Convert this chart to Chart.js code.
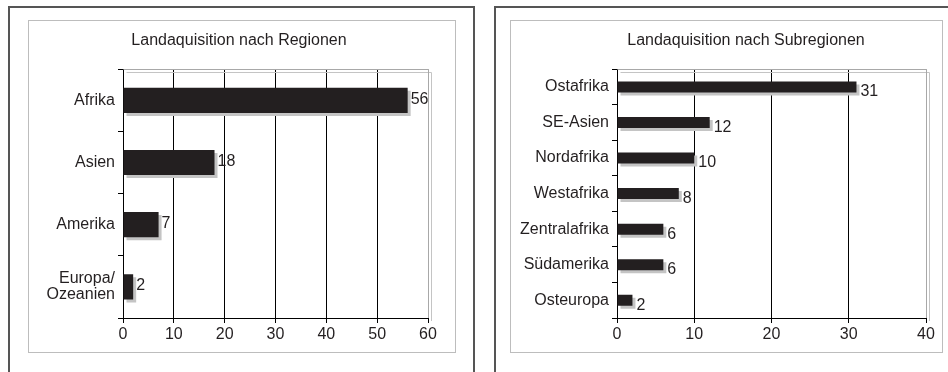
<!DOCTYPE html>
<html>
<head>
<meta charset="utf-8">
<script src="https://cdn.jsdelivr.net/npm/chart.js@4.4.1/dist/chart.umd.min.js"></script>
<style>
  html, body { margin: 0; padding: 0; background: #fff; width: 948px; height: 372px; overflow: hidden; }
  .frame { position: absolute; border: 2px solid #555; border-bottom: none; box-sizing: border-box; }
  .box { position: absolute; border: 1px solid #bdbdbd; box-sizing: border-box; background: #fff; }
  .holder { position: absolute; overflow: hidden; }
  canvas { position: absolute; left: 0; top: 0; }
</style>
</head>
<body>
<div class="frame" style="left:8px; top:6px; width:467px; height:380px;"></div>
<div class="frame" style="left:494px; top:6px; width:470px; height:380px;"></div>
<div class="box" style="left:28px; top:20px; width:428px; height:333px;"></div>
<div class="box" style="left:510px; top:20px; width:433px; height:333px;"></div>
<div class="holder" style="left:29px; top:21px; width:426px; height:331px;">
  <div style="position:absolute; left:0; top:0; width:420px; height:331px;"><canvas id="c1"></canvas></div>
</div>
<div class="holder" style="left:511px; top:21px; width:431px; height:331px;">
  <div style="position:absolute; left:0; top:0; width:470px; height:331px;"><canvas id="c2"></canvas></div>
</div>
<script>
// Landaquisition nach Regionen
const regionLabels = [['Afrika'], ['Asien'], ['Amerika'], ['Europa/', 'Ozeanien']];
const regionValues = [56, 18, 7, 2];
const regionTicks = [0, 10, 20, 30, 40, 50, 60];

// Landaquisition nach Subregionen
const subLabels = ['Ostafrika', 'SE-Asien', 'Nordafrika', 'Westafrika', 'Zentralafrika', 'Südamerika', 'Osteuropa'];
const subValues = [31, 12, 10, 8, 6, 6, 2];
const subTicks = [0, 10, 20, 30, 40];

const FONT = '"Liberation Sans", Arial, Helvetica, sans-serif';
const INK = '#231f20';

// centre the title across the whole canvas rather than up to the plot's right edge
const titleSpan = {
  id: 'titleSpan',
  afterLayout(chart) {
    const t = chart.titleBlock;
    if (!t) return;
    t.left = 0;
    t.right = chart.width;
    t.width = chart.width;
  }
};

// grey drop shadow under each bar
const barShadow = {
  id: 'barShadow',
  beforeDatasetsDraw(chart) {
    const ctx = chart.ctx;
    ctx.save();
    ctx.shadowColor = '#c4c4c4';
    ctx.shadowOffsetX = 3;
    ctx.shadowOffsetY = 3;
    ctx.shadowBlur = 0;
  },
  afterDatasetsDraw(chart) { chart.ctx.restore(); }
};

// light top and right edge of the plot area
const plotEdge = {
  id: 'plotEdge',
  beforeDatasetsDraw(chart) {
    const { ctx, chartArea: a } = chart;
    ctx.save();
    ctx.strokeStyle = '#a8a8a8';
    ctx.lineWidth = 1;
    ctx.beginPath();
    ctx.moveTo(Math.round(a.left) + 0.5, Math.round(a.top) + 0.5);
    ctx.lineTo(Math.round(a.right) + 0.5, Math.round(a.top) + 0.5);
    ctx.lineTo(Math.round(a.right) + 0.5, Math.round(a.bottom));
    ctx.stroke();
    ctx.restore();
  }
};

// value printed after the end of each bar
const valueLabels = {
  id: 'valueLabels',
  afterDraw(chart, args, opts) {
    const ctx = chart.ctx;
    const meta = chart.getDatasetMeta(0);
    const data = chart.data.datasets[0].data;
    ctx.save();
    ctx.font = '16px ' + FONT;
    ctx.fillStyle = INK;
    ctx.textAlign = 'left';
    ctx.textBaseline = 'middle';
    meta.data.forEach((bar, i) => {
      ctx.fillText(String(data[i]), bar.x + opts.dx, bar.y + opts.dy);
    });
    ctx.restore();
  }
};

function makeChart(id, labels, values, ticks, cfg) {
  const max = ticks[ticks.length - 1];
  return new Chart(document.getElementById(id), {
    type: 'bar',
    data: {
      labels: labels,
      datasets: [{
        data: values,
        backgroundColor: INK,
        borderWidth: 0,
        barPercentage: cfg.bar,
        categoryPercentage: 1
      }]
    },
    plugins: [titleSpan, barShadow, plotEdge, valueLabels],
    options: {
      indexAxis: 'y',
      responsive: true,
      maintainAspectRatio: false,
      animation: false,
      events: [],
      layout: { padding: { left: 0, right: cfg.padRight, top: 0, bottom: 0 } },
      plugins: {
        legend: { display: false },
        tooltip: { enabled: false },
        title: {
          display: true,
          text: cfg.title,
          color: INK,
          font: { family: FONT, size: 16, weight: 'normal', lineHeight: 1.2 },
          padding: { top: 10, bottom: 19 }
        },
        valueLabels: { dx: cfg.dx, dy: cfg.dy }
      },
      scales: {
        x: {
          type: 'linear',
          min: 0,
          max: max,
          afterBuildTicks(scale) { scale.ticks = ticks.map(v => ({ value: v })); },
          afterFit(scale) { scale.height = 34; },
          grid: {
            display: true,
            drawOnChartArea: true,
            drawTicks: true,
            tickLength: 5,
            color: ctx => (ctx.tick && ctx.tick.value === max) ? '#a8a8a8' : '#000',
            tickColor: '#000',
            lineWidth: 1
          },
          border: { display: true, color: '#000', width: 1 },
          ticks: {
            color: INK,
            font: { family: FONT, size: 16 },
            padding: 2,
            maxRotation: 0
          }
        },
        y: {
          type: 'category',
          afterFit(scale) { scale.width = cfg.yWidth; },
          grid: {
            display: true,
            offset: true,
            drawOnChartArea: false,
            drawTicks: true,
            tickLength: 5,
            color: '#000',
            tickColor: '#000'
          },
          border: { display: true, color: '#000', width: 1 },
          ticks: {
            color: INK,
            font: { family: FONT, size: 16, lineHeight: 1.0 },
            padding: 3
          }
        }
      }
    }
  });
}

makeChart('c1', regionLabels, regionValues, regionTicks, {
  title: 'Landaquisition nach Regionen',
  bar: 0.405, padRight: 21, yWidth: 94, dx: 3, dy: -1
});

makeChart('c2', subLabels, subValues, subTicks, {
  title: 'Landaquisition nach Subregionen',
  bar: 0.31, padRight: 55, yWidth: 106, dx: 4, dy: 5
});
</script>
</body>
</html>
